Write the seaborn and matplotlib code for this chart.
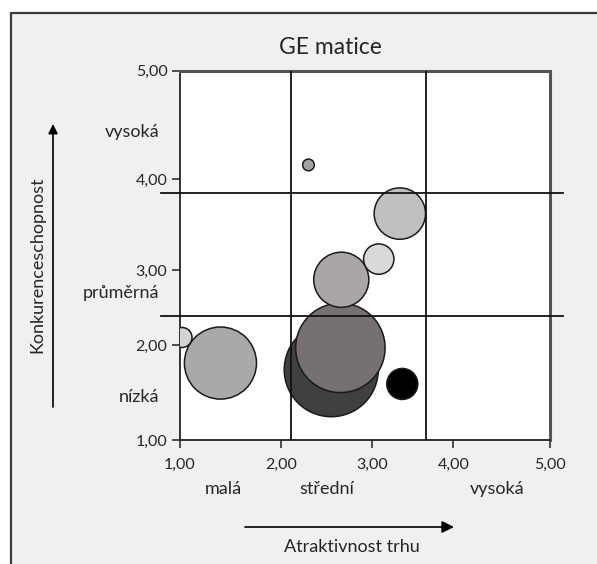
import numpy as np
import pandas as pd
import matplotlib
matplotlib.use("Agg")
import matplotlib.pyplot as plt
import seaborn as sns
from matplotlib.lines import Line2D
from matplotlib.patches import Rectangle

# ---------------- data ----------------
title = "GE matice"
x_label = "Atraktivnost trhu"
y_label = "Konkurenceschopnost"
tick_values = [1, 2, 3, 4, 5]
tick_labels = ["1,00", "2,00", "3,00", "4,00", "5,00"]
x_categories = ["malá", "střední", "vysoká"]
y_categories = ["nízká", "průměrná", "vysoká"]

# bubbles: market attractiveness (x), competitiveness (y), bubble value (area)
bubble_names = ["A", "B", "C", "D", "E", "F", "G", "H", "I"]
attractiveness = [1.02, 1.40, 2.55, 2.65, 3.37, 2.66, 3.08, 3.34, 2.30]
competitiveness = [2.10, 1.81, 1.74, 1.97, 1.59, 2.87, 3.12, 3.62, 4.13]
bubble_value = [1.0, 13.0, 22.1, 20.0, 2.4, 7.6, 2.3, 6.6, 0.34]
bubble_colors = ["#d4d4d4", "#a9a9a9", "#404040", "#767170", "#000000",
                 "#aaa6a5", "#d9d9d9", "#c0c0c0", "#a3a3a3"]

# grid dividers of the matrix
x_dividers = [2.11, 3.667]
y_dividers = [2.39, 3.843]

df = pd.DataFrame({"name": bubble_names, "x": attractiveness,
                   "y": competitiveness, "value": bubble_value})

# ---------------- figure ----------------
W, H, DPI = 597, 564, 100
fig = plt.figure(figsize=(W / DPI, H / DPI), dpi=DPI, facecolor="white")

def fx(px):
    return px / W

def fy(py):
    return 1 - py / H

# panel background + border (left and top)
fig.patches.append(Rectangle((fx(10.5), 0), 1, fy(12.5), transform=fig.transFigure,
                             facecolor="#f0f0f0", edgecolor="none", zorder=-10))
fig.lines.append(Line2D([fx(10.5), fx(10.5), 1], [0, fy(12.5), fy(12.5)],
                        transform=fig.transFigure, color="#3a3a3a", lw=1.6))

ax = fig.add_axes([fx(180), fy(440), (550 - 180) / W, (440 - 70.7) / H])
ax.set_facecolor("white")

# axis scales as printed in the original chart (tick spacing is uneven)
x_tick_px = [0, 101, 192, 273, 369.5]
y_tick_px = [0, 95, 170, 261, 369.3]

def fwd_x(v):
    return np.interp(v, tick_values, x_tick_px, left=-1e3, right=1e3)

def inv_x(t):
    return np.interp(t, x_tick_px, tick_values)

def fwd_y(v):
    return np.interp(v, tick_values, y_tick_px, left=-1e3, right=1e3)

def inv_y(t):
    return np.interp(t, y_tick_px, tick_values)

ax.set_xscale("function", functions=(fwd_x, inv_x))
ax.set_yscale("function", functions=(fwd_y, inv_y))

# bubble size: area proportional to value
k = (2 * 0.72) ** 2 * 100  # points^2 per unit value
sns.scatterplot(data=df, x="x", y="y", hue="name", palette=bubble_colors,
                size="value", sizes=(0, k * 25), size_norm=(0, 25),
                edgecolor="#1a1a1a", linewidth=1.1, alpha=1, legend=False,
                ax=ax, zorder=3)

ax.set_xlim(1, 5)
ax.set_ylim(1, 5)

for xv in x_dividers:
    ax.axvline(xv, color="#111111", lw=1.3, zorder=4)
for yv in y_dividers:
    ax.axhline(yv, xmin=-0.05, xmax=1.034, color="#111111", lw=1.3,
               zorder=4, clip_on=False)

ax.set_xticks(tick_values)
ax.set_xticklabels(tick_labels)
ax.set_yticks(tick_values)
ax.set_yticklabels(tick_labels)
ax.minorticks_off()

txt_color = "#262626"
font = "Lato"
ax.tick_params(axis="both", direction="out", length=6, width=1.2,
               color="#333333", labelsize=11.5, labelcolor=txt_color)
ax.tick_params(axis="x", pad=7)
ax.tick_params(axis="y", pad=3)

for side in ["left", "bottom"]:
    ax.spines[side].set_color("#222222")
    ax.spines[side].set_linewidth(1.3)
for side in ["top", "right"]:
    ax.spines[side].set_color("#555555")
    ax.spines[side].set_linewidth(2.2)

ax.set_xlabel("")
ax.set_ylabel("")

fig.text(fx(330), fy(48), title, ha="center", va="center", fontsize=16.5,
         color=txt_color, family=font)

# category labels
for label, px in zip(x_categories, [223, 327, 497]):
    fig.text(fx(px), fy(489), label, ha="center", va="center", fontsize=13,
             color=txt_color, family=font)
for label, py in zip(y_categories, [397, 293, 132]):
    fig.text(fx(159), fy(py), label, ha="right", va="center", fontsize=13,
             color=txt_color, family=font)

# axis titles with arrows
fig.text(fx(352), fy(547), x_label, ha="center", va="center", fontsize=13,
         color=txt_color, family=font)
fig.text(fx(37), fy(265), y_label, ha="center", va="center", fontsize=13,
         rotation=90, color=txt_color, family=font)

ax.annotate("", xy=(fx(454), fy(527)), xytext=(fx(245), fy(527)),
            xycoords="figure fraction", textcoords="figure fraction",
            arrowprops=dict(arrowstyle="-|>", color="black", lw=1.2,
                            mutation_scale=18, shrinkA=0, shrinkB=0))
ax.annotate("", xy=(fx(53), fy(124)), xytext=(fx(53), fy(407)),
            xycoords="figure fraction", textcoords="figure fraction",
            arrowprops=dict(arrowstyle="-|>", color="black", lw=1.2,
                            mutation_scale=14, shrinkA=0, shrinkB=0))

for lab in ax.get_xticklabels() + ax.get_yticklabels():
    lab.set_family(font)

fig.savefig("out.png", dpi=DPI, facecolor=fig.get_facecolor())
